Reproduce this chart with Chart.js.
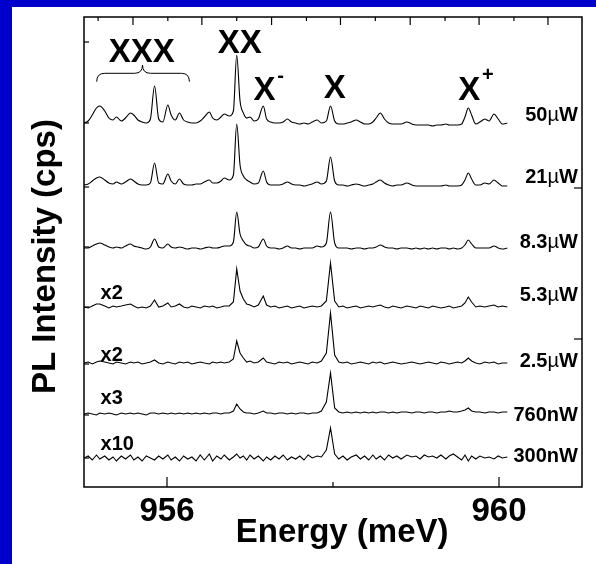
<!DOCTYPE html>
<html>
<head>
<meta charset="utf-8">
<script src="https://cdn.jsdelivr.net/npm/chart.js@4"></script>
<style>
    html, body { margin: 0; padding: 0; background: #fff; }
    #frame {
        width: 584px;
        height: 557px;
        border-left: 12px solid #0000cc;
        border-top: 7px solid #0000cc;
        background: #fff;
    }
    canvas { display: block; }
</style>
</head>
<body>
<div id="frame"><canvas id="plChart" width="584" height="557"></canvas></div>
<script>
const FONT = '"Liberation Sans", Arial, sans-serif';

// photon energy (meV), shared by all spectra
const energy = [
    955.00, 955.05, 955.10, 955.15, 955.19, 955.25, 955.30, 955.35, 955.39, 955.45,
    955.50, 955.56, 955.60, 955.65, 955.70, 955.75, 955.80, 955.85, 955.90, 955.95,
    956.01, 956.05, 956.10, 956.15, 956.20, 956.25, 956.30, 956.35, 956.40, 956.45,
    956.51, 956.55, 956.60, 956.65, 956.69, 956.75, 956.80, 956.84, 956.88, 956.92,
    956.96, 957.00, 957.05, 957.10, 957.16, 957.20, 957.25, 957.30, 957.35, 957.40,
    957.45, 957.50, 957.55, 957.60, 957.65, 957.70, 957.75, 957.81, 957.86, 957.92,
    957.97, 958.02, 958.07, 958.12, 958.17, 958.22, 958.28, 958.33, 958.38, 958.43,
    958.48, 958.52, 958.57, 958.62, 958.67, 958.72, 958.77, 958.82, 958.89, 958.95,
    959.00, 959.05, 959.10, 959.15, 959.20, 959.25, 959.30, 959.36, 959.40, 959.45,
    959.50, 959.55, 959.59, 959.63, 959.67, 959.72, 959.77, 959.83, 959.88, 959.94,
    959.99, 960.04, 960.10
];

// PL intensity of each spectrum above its own baseline (arb. cps)
const s50uW = [
    0, 2, 8, 15, 17, 12, 5, 3, 6, 2,
    5, 10, 8, 3, 1, 0, 4, 37, 4, 1,
    18, 8, 3, 10, 3, 1, 0, 0, 2, 6,
    11, 5, 3, 6, 9, 7, 12, 68, 22, 10,
    5, 6, 2, 4, 17, 4, 1, 0, 0, 1,
    4, 1, 0, -1, 0, -1, 1, 3, 0, 2,
    17, 2, -1, -1, 0, 1, 3, 1, -1, -1,
    1, 5, 10, 4, 0, -1, -1, -1, 1, -1,
    -2, -2, -2, -2, -3, -2, -2, -1, -2, -2,
    -2, -1, 6, 15, 8, -1, 1, 4, 2, 9,
    4, -1, 0
];
const s21uW = [
    0, 1, 4, 7, 8, 5, 2, 1, 3, 1,
    3, 6, 4, 1, 0, 0, 2, 22, 2, 1,
    11, 4, 1, 6, 1, 0, 0, 1, 1, 3,
    5, 2, 2, 4, 7, 5, 10, 61, 20, 9,
    5, 3, 1, 2, 14, 3, 0, 0, 0, 1,
    3, 1, 0, 0, -1, 0, 1, 3, 1, 4,
    28, 4, 0, 0, -1, 0, 1, 0, -1, 0,
    1, 3, 5, 2, 0, -1, 0, 0, 2, 0,
    -1, -1, -1, -1, -1, -1, -1, 0, -1, -1,
    -1, 0, 5, 12, 6, 0, 0, 2, 1, 5,
    2, -1, -1
];
const s8_3uW = [
    0, 0, 2, 4, 5, 3, 1, 0, 1, 0,
    2, 4, 2, 1, 0, -1, 1, 9, 1, 0,
    4, 1, 0, 1, 0, -1, 0, 0, -1, 0,
    1, 0, 0, 1, 2, 2, 6, 36, 14, 7,
    3, 2, 0, 1, 9, 2, 0, 0, -1, 0,
    2, 0, 0, -1, 0, 0, 0, 2, 1, 5,
    36, 5, 0, 0, 0, -1, 0, 0, -1, 0,
    0, 1, 3, 1, 0, 0, -1, 0, 0, -1,
    0, -1, 0, -1, 0, -1, 0, 0, -1, 0,
    -1, 0, 3, 8, 4, 0, 0, 0, 0, 2,
    0, -1, 0
];
const s5_3uW = [
    0, -1, 1, 3, 3, 1, -1, 1, 0, 1,
    2, 3, 1, -1, 0, -1, 1, 7, 0, 1,
    4, 0, 1, 3, 0, -1, 1, 0, -1, 1,
    0, 1, -1, 0, 1, 1, 5, 38, 16, 8,
    3, 2, 0, 2, 11, 2, 0, 1, -1, 0,
    1, -1, 0, 1, -1, 0, 1, 0, 1, 6,
    44, 6, 0, 1, -1, 0, 1, -1, 0, 1,
    0, 1, 2, 0, -1, 1, 0, -1, 1, 0,
    -1, 1, 0, -1, 1, 0, -1, 0, 1, -1,
    0, 1, 4, 10, 5, 0, 1, 0, 1, 2,
    0, 1, 0
];
const s2_5uW = [
    0, 1, -1, 1, 2, 1, 0, -1, 1, 0,
    -1, 1, 0, 1, -1, 0, 1, 3, 0, -1,
    1, 0, -1, 1, 0, 1, -1, 0, 1, 0,
    -1, 1, 0, 1, 0, 1, 4, 22, 10, 5,
    1, 2, 0, 1, 5, 1, 0, -1, 1, 0,
    1, -1, 0, 1, 0, -1, 1, 0, 2, 10,
    50, 8, 1, 0, 1, -1, 0, 1, 0, -1,
    1, 0, 1, -1, 0, 1, 0, -1, 0, 1,
    0, -1, 0, 1, 0, -1, 1, 0, -1, 0,
    1, 0, 2, 5, 2, 0, -1, 1, 0, 1,
    -1, 0, 0
];
const s760nW = [
    0, 1, 0, -1, 1, 0, 1, 0, -1, 1,
    0, 1, 0, 1, 0, -1, 1, 1, 0, 1,
    0, 1, 0, 1, 0, 1, 0, 1, 0, 1,
    0, 1, 1, 0, 1, 1, 3, 10, 5, 2,
    1, 1, 0, 1, 3, 1, 1, 0, 1, 1,
    0, 1, 0, 1, 1, 0, 1, 1, 3, 12,
    41, 6, 2, 1, 2, 1, 2, 1, 2, 1,
    2, 1, 2, 2, 1, 2, 1, 2, 2, 1,
    2, 2, 1, 2, 2, 1, 2, 2, 3, 2,
    2, 3, 4, 6, 3, 2, 2, 1, 2, 2,
    1, 2, 2
];
const s300nW = [
    0, 2, -2, 3, -1, 2, -2, 1, -3, 2,
    -1, 3, -2, 1, -3, 2, 0, -2, 2, -1,
    3, -2, 1, -3, 2, -1, 1, -3, 3, -2,
    4, -3, 2, -1, 3, -2, 1, 4, 0, 2,
    -2, 3, -1, 2, -3, 1, -2, 2, -1, 3,
    -2, 1, -1, 2, -2, 3, 0, 2, 1, 8,
    30, 4, -1, 2, -2, 1, 3, -1, 2, -2,
    3, -1, 2, -2, 3, 0, 2, -1, 3, 1,
    2, -1, 3, 1, 2, 0, 3, -1, 2, 4,
    1, -2, 3, -3, 2, -1, 2, 0, 1, -1,
    2, 0, 1
];

const spectra = [s50uW, s21uW, s8_3uW, s5_3uW, s2_5uW, s760nW, s300nW];
// vertical offset of each spectrum in the stack
const offsets = [364, 302, 239, 180, 124, 73, 29];
const powerNum = ['50', '21', '8.3', '5.3', '2.5', '760', '300'];
const powerUnit = ['\u00b5W', '\u00b5W', '\u00b5W', '\u00b5W', '\u00b5W', 'nW', 'nW'];
const gainLabels = ['x2', 'x2', 'x3', 'x10'];
const peakNames = ['XXX', 'XX', 'X', 'X', 'X'];
const peakSups = ['', '', '-', '', '+'];

// ticks
const xMajorTicks = [956, 960];
const xMinorTicks = [958];
const topMajorTicks = [955.59, 956.42, 957.26, 958.09, 958.93, 959.76, 960.59];
const topMinorTicks = [955.17, 956.01, 956.84, 957.68, 958.51, 959.35, 960.18];
const leftTicks = [445, 364, 300, 240, 180, 123, 72, 29];
const rightTicks = [299, 148];

const decorPlugin = {
    id: 'decor',
    afterDraw(chart, args, opts) {
        const { ctx, chartArea: a, scales: { x, y } } = chart;
        ctx.save();
        ctx.strokeStyle = '#000';
        ctx.fillStyle = '#000';

        // frame
        ctx.lineWidth = 1.5;
        ctx.strokeRect(a.left, a.top, a.right - a.left, a.bottom - a.top);

        // inward tick marks
        ctx.lineWidth = 1.2;
        const tick = (px, py, dx, dy) => {
            ctx.beginPath();
            ctx.moveTo(px, py);
            ctx.lineTo(px + dx, py + dy);
            ctx.stroke();
        };
        xMajorTicks.forEach(v => tick(x.getPixelForValue(v), a.bottom, 0, -10));
        xMinorTicks.forEach(v => tick(x.getPixelForValue(v), a.bottom, 0, -5));
        topMajorTicks.forEach(v => tick(x.getPixelForValue(v), a.top, 0, 8));
        topMinorTicks.forEach(v => tick(x.getPixelForValue(v), a.top, 0, 4));
        leftTicks.forEach(v => tick(a.left, y.getPixelForValue(v), 5, 0));
        rightTicks.forEach(v => tick(a.right, y.getPixelForValue(v), -8, 0));

        // brace over the XXX lines
        const b = opts.brace;
        const bl = x.getPixelForValue(b.from), br = x.getPixelForValue(b.to);
        const bt = x.getPixelForValue(b.tip);
        const yEnd = y.getPixelForValue(b.yEnd), yMid = y.getPixelForValue(b.yLine);
        const yTip = y.getPixelForValue(b.yTip);
        const c = 8;
        ctx.lineWidth = 1;
        ctx.beginPath();
        ctx.moveTo(bl, yEnd);
        ctx.quadraticCurveTo(bl, yMid, bl + c, yMid);
        ctx.lineTo(bt - c, yMid);
        ctx.quadraticCurveTo(bt, yMid, bt, yTip);
        ctx.quadraticCurveTo(bt, yMid, bt + c, yMid);
        ctx.lineTo(br - c, yMid);
        ctx.quadraticCurveTo(br, yMid, br, yEnd);
        ctx.stroke();

        // peak labels
        ctx.textAlign = 'center';
        ctx.textBaseline = 'alphabetic';
        peakNames.forEach((name, i) => {
            const p = opts.peakPos[i];
            ctx.font = `bold 33px ${FONT}`;
            ctx.fillText(name, x.getPixelForValue(p[0]), y.getPixelForValue(p[1]));
            if (peakSups[i]) {
                const s = opts.supPos[i];
                ctx.font = `bold 20px ${FONT}`;
                ctx.textBaseline = 'middle';
                ctx.fillText(peakSups[i], x.getPixelForValue(s[0]), y.getPixelForValue(s[1]));
                ctx.textBaseline = 'alphabetic';
            }
        });

        // excitation power labels, micro sign in plain weight
        ctx.textAlign = 'left';
        ctx.textBaseline = 'middle';
        const bold = `bold 20px ${FONT}`, plain = `20px ${FONT}`;
        powerNum.forEach((num, i) => {
            const parts = [[num, bold],
                [powerUnit[i][0], powerUnit[i][0] === '\u00b5' ? plain : bold],
                [powerUnit[i].slice(1), bold]];
            let w = 0;
            parts.forEach(p => { ctx.font = p[1]; w += ctx.measureText(p[0]).width; });
            let px = x.getPixelForValue(opts.powerX) - w;
            const py = y.getPixelForValue(opts.powerY[i]);
            parts.forEach(p => {
                ctx.font = p[1];
                ctx.fillText(p[0], px, py);
                px += ctx.measureText(p[0]).width;
            });
        });

        // gain factors
        ctx.font = bold;
        gainLabels.forEach((g, i) => {
            ctx.fillText(g, x.getPixelForValue(opts.gainX), y.getPixelForValue(opts.gainY[i]));
        });
        ctx.restore();
    }
};

const ctx = document.getElementById('plChart').getContext('2d');
new Chart(ctx, {
    type: 'line',
    data: {
        datasets: spectra.map((vals, i) => ({
            label: powerNum[i] + powerUnit[i],
            data: energy.map((e, j) => ({ x: e, y: offsets[i] + vals[j] })),
            borderColor: '#000',
            borderWidth: 1.1,
            pointRadius: 0,
            // the high power spectra are smooth, the weak ones stay jagged
            cubicInterpolationMode: i < 3 ? 'monotone' : 'default',
            tension: 0,
            fill: false
        }))
    },
    options: {
        responsive: false,
        animation: false,
        devicePixelRatio: 1,
        layout: { padding: { top: 10, right: 14, left: 0, bottom: 0 } },
        plugins: {
            legend: { display: false },
            tooltip: { enabled: false },
            decor: {
                brace: { from: 955.153, to: 956.27, tip: 955.705, yEnd: 405.3, yLine: 413.7, yTip: 422 },
                peakPos: [[955.695, 425], [956.878, 434], [957.174, 387], [958.02, 389], [959.643, 387]],
                supPos: [null, null, [957.367, 411], null, [959.867, 411.5]],
                powerX: 960.95,
                powerY: [372, 310, 245, 192, 125.5, 72, 30.5],
                gainX: 955.2,
                gainY: [193.5, 132, 88.5, 42.5]
            }
        },
        scales: {
            x: {
                type: 'linear',
                min: 955,
                max: 961,
                grid: { display: false, drawTicks: false },
                border: { display: false },
                afterBuildTicks: scale => { scale.ticks = xMajorTicks.map(v => ({ value: v })); },
                afterFit: scale => { scale.height = 77; },
                ticks: {
                    padding: 5,
                    maxRotation: 0,
                    color: '#000',
                    font: { family: FONT, size: 33, weight: 'bold' },
                    callback: v => String(v)
                },
                title: {
                    display: true,
                    text: '  Energy (meV)',
                    color: '#000',
                    font: { family: FONT, size: 33, weight: 'bold' },
                    padding: { top: 0, bottom: 11 }
                }
            },
            y: {
                min: 0,
                max: 470,
                grid: { display: false, drawTicks: false },
                border: { display: false },
                ticks: { display: false },
                afterFit: scale => { scale.width = 72; },
                title: {
                    display: true,
                    text: 'PL Intensity (cps) ',
                    color: '#000',
                    font: { family: FONT, size: 33, weight: 'bold' },
                    padding: { top: 14, bottom: 0 }
                }
            }
        }
    },
    plugins: [decorPlugin]
});
</script>
</body>
</html>
